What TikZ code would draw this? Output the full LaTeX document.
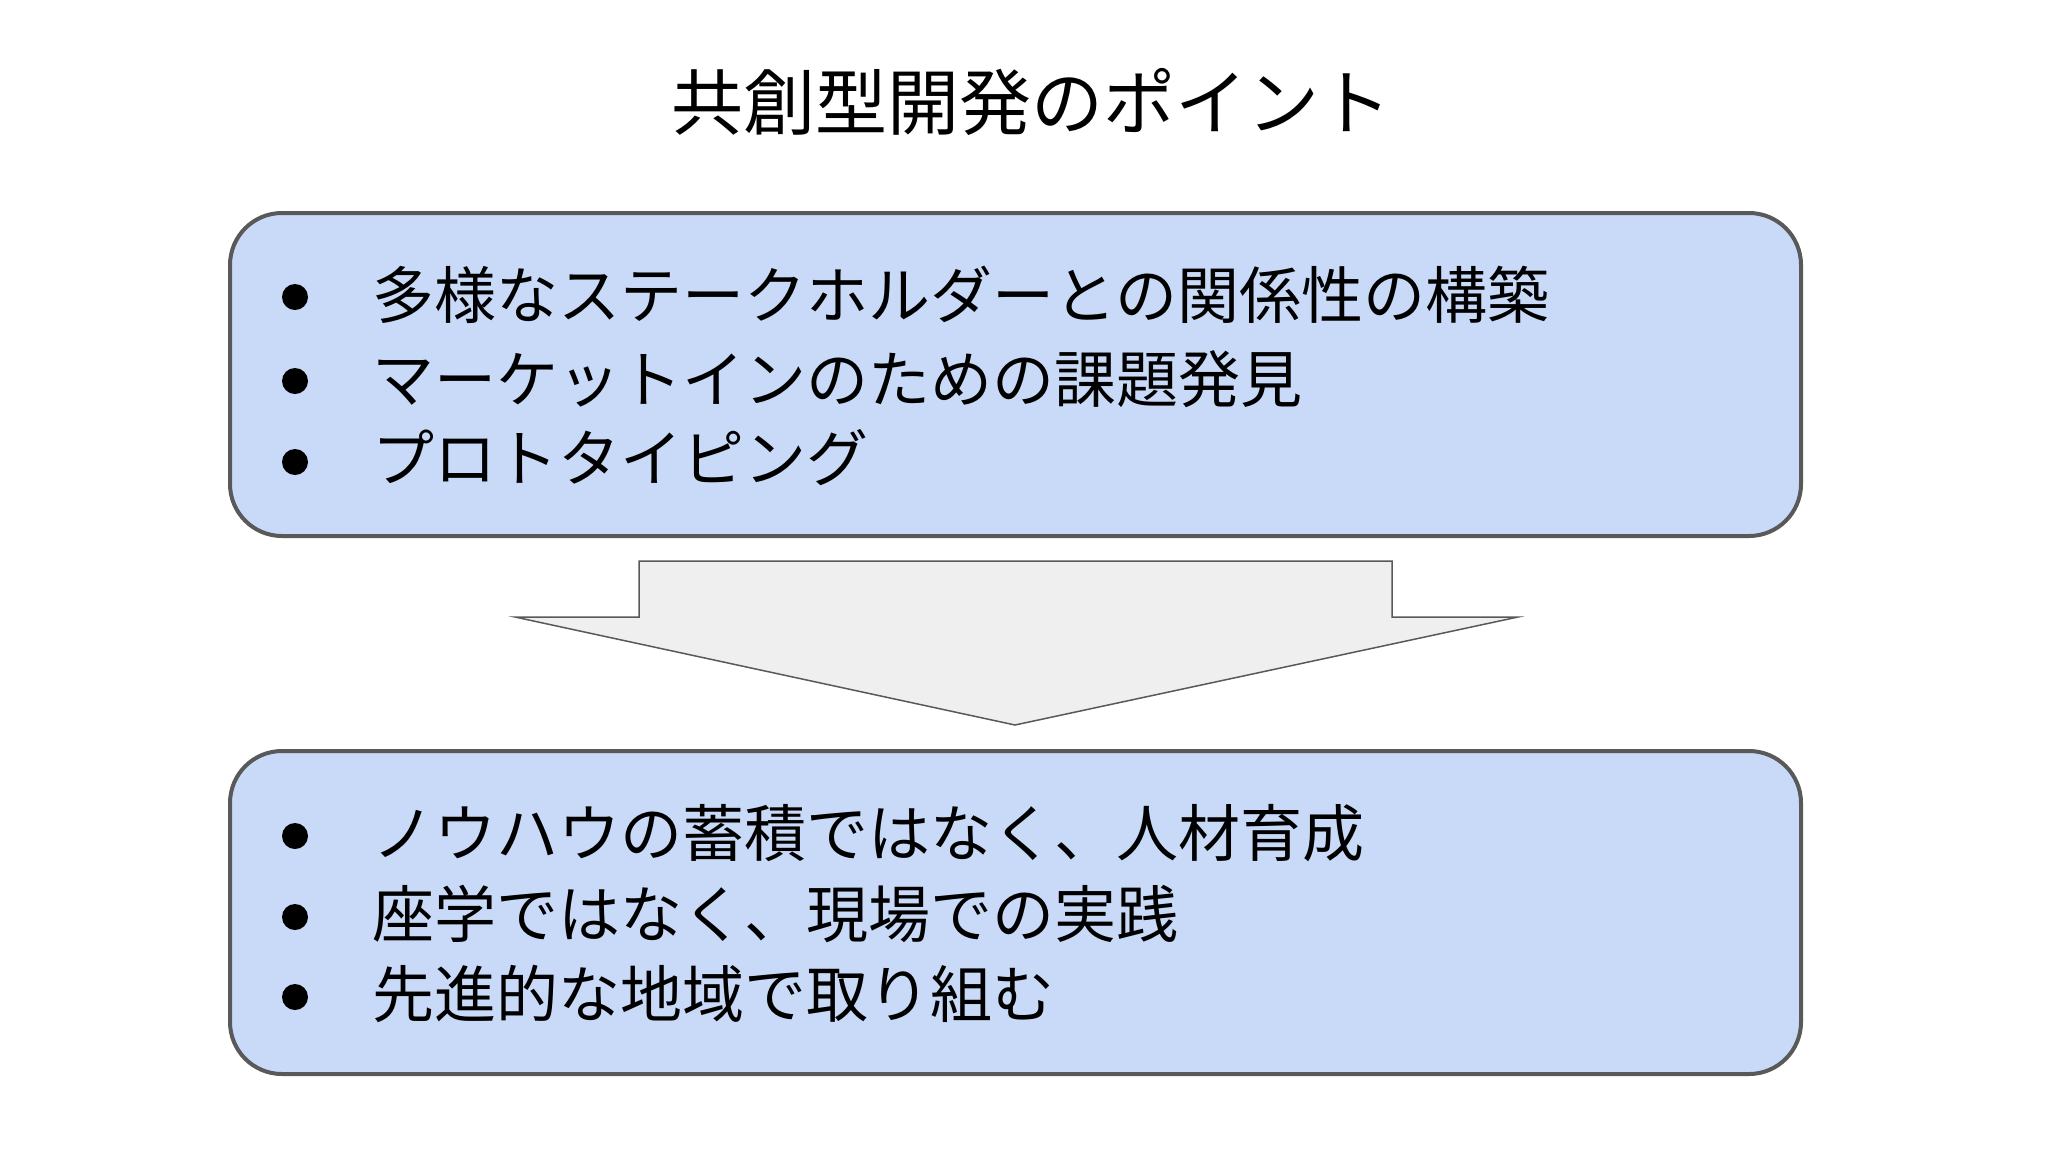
\documentclass[tikz,border=0pt]{standalone}
\usepackage{fontspec}
\setmainfont{Noto Sans CJK JP}
\definecolor{boxfill}{HTML}{C9DAF8}
\definecolor{boxline}{HTML}{595959}
\definecolor{arrfill}{HTML}{EFEFEF}
\begin{document}
\begin{tikzpicture}[x=1pt,y=-1pt,
  panel/.style={draw=boxline,line width=4pt,fill=boxfill,rounded corners=52pt},
  item/.style={anchor=west,inner sep=0pt,font=\fontsize{62}{70}\selectfont},
  dot/.style={circle,fill=black,inner sep=0pt,minimum size=26pt}]
\useasboundingbox (0,0) rectangle (2048,1152);
\fill[white] (0,0) rectangle (2048,1152);
\node[font=\fontsize{72}{80}\selectfont] (title) at (1031,102) {共創型開発のポイント};
\draw[panel] (230,213) rectangle (1801,536);
\draw[panel] (230,751) rectangle (1801,1074);
\draw[draw=boxline,line width=1.5pt,fill=arrfill]
  (639,561) -- (1392,561) -- (1392,617) -- (1518,617) -- (1015,725) -- (515,617) -- (639,617) -- cycle;
\foreach \y/\t [count=\i] in {295/多様なステークホルダーとの関係性の構築, 381/マーケットインのためめの課題発見, 460/プロトタイピング}{}
\node[dot] (d1) at (295,297) {}; \node[item] (t1) at (372,295) {多様なステークホルダーとの関係性の構築};
\node[dot] (d2) at (295,381) {}; \node[item] (t2) at (372,379) {マーケットインのための課題発見};
\node[dot] (d3) at (295,462) {}; \node[item] (t3) at (372,458) {プロトタイピング};
\node[dot] (d4) at (295,836) {}; \node[item] (t4) at (372,833) {ノウハウの蓄積ではなく、人材育成};
\node[dot] (d5) at (295,917) {}; \node[item] (t5) at (372,914) {座学ではなく、現場での実践};
\node[dot] (d6) at (295,997) {}; \node[item] (t6) at (372,994) {先進的な地域で取り組む};
\end{tikzpicture}
\end{document}
